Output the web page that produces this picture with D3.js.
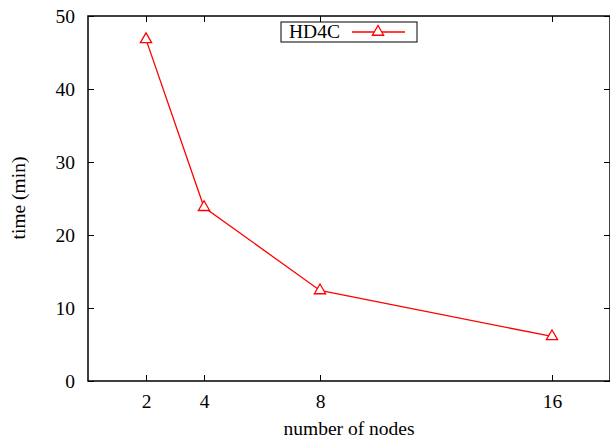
<!DOCTYPE html>
<html>
<head>
<meta charset="utf-8">
<script src="https://cdnjs.cloudflare.com/ajax/libs/d3/7.8.5/d3.min.js"></script>
<style>
    body { margin: 0; background: #fff; }
    svg text { font-family: "Liberation Serif", "Times New Roman", Times, "DejaVu Serif", serif !important; fill: #000; }
</style>
</head>
<body>
<svg id="chart" width="610" height="439"></svg>
<script>
    // values
    const nodes = [2, 4, 8, 16];
    const minutes = [46.8, 23.8, 12.4, 6.1];
    const yTicks = [0, 10, 20, 30, 40, 50];
    const seriesName = "HD4C";

    const svg = d3.select("#chart");
    const plotLeft = 88, plotRight = 610, plotTop = 16, plotBottom = 381;
    const fs = "19.5px";

    const x = d3.scaleLinear().domain([0, 18]).range([plotLeft, plotRight]);
    const y = d3.scaleLinear().domain([0, 50]).range([plotBottom, plotTop]);

    // frame
    svg.append("rect")
        .attr("x", plotLeft).attr("y", plotTop)
        .attr("width", plotRight - plotLeft).attr("height", plotBottom - plotTop)
        .attr("fill", "none").attr("stroke", "#000").attr("stroke-width", 1.5);

    // axes with inward ticks (mirrored on top/right)
    const tick = 6;
    svg.append("g").attr("transform", `translate(0,${plotBottom})`)
        .call(d3.axisBottom(x).tickValues(nodes).tickSizeInner(-tick).tickSizeOuter(0).tickPadding(13))
        .call(g => g.select(".domain").remove());
    svg.append("g").attr("transform", `translate(0,${plotTop})`)
        .call(d3.axisTop(x).tickValues(nodes).tickSizeInner(-tick).tickSizeOuter(0).tickFormat(""))
        .call(g => g.select(".domain").remove());
    svg.append("g").attr("transform", `translate(${plotLeft},0)`)
        .call(d3.axisLeft(y).tickValues(yTicks).tickSizeInner(-tick).tickSizeOuter(0).tickPadding(13))
        .call(g => g.select(".domain").remove());
    svg.append("g").attr("transform", `translate(${plotRight},0)`)
        .call(d3.axisRight(y).tickValues(yTicks).tickSizeInner(-tick).tickSizeOuter(0).tickFormat(""))
        .call(g => g.select(".domain").remove());

    svg.selectAll("g").attr("font-family", null).attr("font-size", null);
    svg.selectAll(".tick line").attr("stroke", "#000");
    svg.selectAll(".tick text")
        .style("font-size", fs).attr("fill", "#000");

    // axis titles
    svg.append("text")
        .attr("x", 349).attr("y", 435)
        .attr("text-anchor", "middle").style("font-size", fs)
        .text("number of nodes");
    svg.append("text")
        .attr("transform", "translate(25,198) rotate(-90)")
        .attr("text-anchor", "middle").style("font-size", fs)
        .text("time (min)");

    const pts = nodes.map((n, i) => [n, minutes[i]]);
    const red = "#ff0000";

    svg.append("path")
        .datum(pts)
        .attr("fill", "none").attr("stroke", red).attr("stroke-width", 1.3)
        .attr("d", d3.line().x(d => x(d[0])).y(d => y(d[1])));

    const tri = d3.symbol().type(d3.symbolTriangle).size(55);
    svg.selectAll(".pt")
        .data(pts)
        .join("path")
        .attr("class", "pt")
        .attr("transform", d => `translate(${x(d[0])},${y(d[1])})`)
        .attr("d", tri)
        .attr("fill", "#fff").attr("stroke", red).attr("stroke-width", 1.3);

    // legend
    const lg = svg.append("g");
    lg.append("rect")
        .attr("x", 281).attr("y", 22).attr("width", 136).attr("height", 20)
        .attr("fill", "#fff").attr("stroke", "#000").attr("stroke-width", 1);
    lg.append("text")
        .attr("x", 289).attr("y", 38).style("font-size", fs)
        .text(seriesName);
    lg.append("line")
        .attr("x1", 352).attr("x2", 405).attr("y1", 32).attr("y2", 32)
        .attr("stroke", red).attr("stroke-width", 1.3);
    lg.append("path")
        .attr("transform", "translate(378,32)")
        .attr("d", tri)
        .attr("fill", "#fff").attr("stroke", red).attr("stroke-width", 1.3);
</script>
</body>
</html>
